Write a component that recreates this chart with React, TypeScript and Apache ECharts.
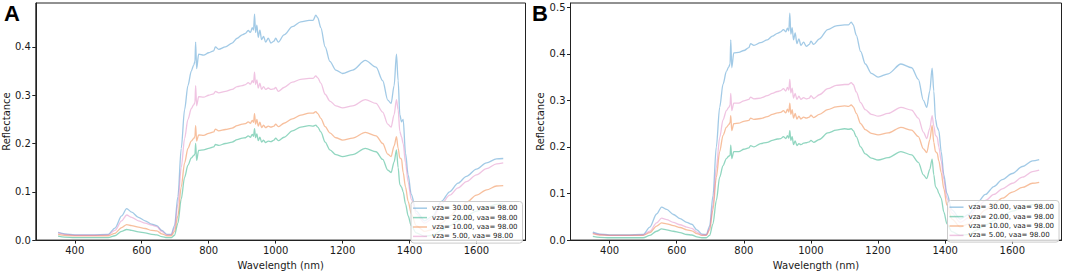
import React, { useEffect, useRef } from "react";
import * as echarts from "echarts";

// Wavelength sample points (nm)
const WAVELENGTHS = [
  350, 370, 400, 450, 500, 520, 540, 555, 570, 590, 610, 630, 645, 660, 675, 688,
  698, 708, 718, 728, 738, 748, 755, 759, 761, 764, 770, 785, 800, 815, 820, 830, 850, 870, 885, 900,
  910, 918, 925, 930, 934, 937, 940, 944, 948, 953, 958, 964, 970, 978, 986, 995, 1000, 1008, 1025, 1050,
  1075, 1100, 1112, 1120, 1126, 1135, 1148, 1162, 1180, 1200, 1230, 1268, 1300, 1320, 1335, 1345, 1354, 1361, 1366, 1371,
  1376, 1381, 1388, 1396, 1405, 1420, 1445, 1470, 1495, 1520, 1545, 1570, 1600, 1630, 1660, 1680,
];

const SERIES_NAMES = [
  "vza= 30.00, vaa= 98.00",
  "vza= 20.00, vaa= 98.00",
  "vza= 10.00, vaa= 98.00",
  "vza= 5.00, vaa= 98.00",
];

// Panel A
const A_VZA30 = [
  0.016, 0.013, 0.011, 0.011, 0.012, 0.025, 0.050, 0.065, 0.058, 0.047, 0.040, 0.033, 0.030, 0.020, 0.012, 0.012,
  0.03, 0.09, 0.19, 0.27, 0.32, 0.35, 0.362, 0.37, 0.41, 0.355, 0.385, 0.383, 0.388, 0.392, 0.40, 0.395, 0.40, 0.408, 0.418, 0.425,
  0.428, 0.434, 0.43, 0.44, 0.435, 0.468, 0.43, 0.445, 0.42, 0.435, 0.415, 0.422, 0.41, 0.418, 0.408, 0.412, 0.418, 0.41, 0.425, 0.442,
  0.452, 0.455, 0.455, 0.466, 0.46, 0.44, 0.40, 0.37, 0.352, 0.345, 0.352, 0.372, 0.358, 0.33, 0.29, 0.283, 0.32, 0.385, 0.33, 0.26,
  0.245, 0.25, 0.18, 0.135, 0.095, 0.06, 0.04, 0.05, 0.08, 0.1, 0.118, 0.132, 0.147, 0.16, 0.168, 0.169,
];
const A_VZA20 = [
  0.008, 0.006, 0.005, 0.005, 0.005, 0.009, 0.018, 0.022, 0.02, 0.017, 0.015, 0.012, 0.011, 0.007, 0.005, 0.005,
  0.01, 0.035, 0.085, 0.13, 0.155, 0.17, 0.175, 0.178, 0.2, 0.165, 0.186, 0.187, 0.19, 0.193, 0.198, 0.196, 0.2, 0.203, 0.208, 0.211,
  0.212, 0.216, 0.213, 0.219, 0.215, 0.231, 0.212, 0.22, 0.206, 0.213, 0.203, 0.207, 0.202, 0.205, 0.204, 0.207, 0.211, 0.206, 0.213, 0.226,
  0.234, 0.237, 0.236, 0.238, 0.234, 0.224, 0.203, 0.187, 0.177, 0.173, 0.177, 0.19, 0.183, 0.167, 0.145, 0.14, 0.162, 0.187, 0.15, 0.115,
  0.11, 0.1, 0.075, 0.05, 0.03, 0.015, 0.008, 0.01, 0.02, 0.03, 0.04, 0.05, 0.06, 0.068, 0.074, 0.075,
];
const A_VZA10 = [
  0.012, 0.01, 0.009, 0.009, 0.009, 0.014, 0.026, 0.032, 0.03, 0.027, 0.024, 0.02, 0.019, 0.013, 0.009, 0.009,
  0.018, 0.05, 0.11, 0.16, 0.19, 0.205, 0.21, 0.215, 0.237, 0.205, 0.218, 0.217, 0.221, 0.224, 0.23, 0.226, 0.229, 0.232, 0.237, 0.24,
  0.241, 0.245, 0.242, 0.248, 0.244, 0.262, 0.24, 0.25, 0.236, 0.244, 0.233, 0.238, 0.233, 0.236, 0.234, 0.236, 0.24, 0.235, 0.242, 0.251,
  0.259, 0.263, 0.263, 0.266, 0.262, 0.252, 0.235, 0.222, 0.212, 0.207, 0.211, 0.223, 0.216, 0.2, 0.178, 0.173, 0.195, 0.214, 0.19, 0.17,
  0.168, 0.14, 0.11, 0.08, 0.055, 0.03, 0.018, 0.022, 0.035, 0.05, 0.065, 0.078, 0.093, 0.104, 0.112, 0.113,
];
const A_VZA5 = [
  0.015, 0.012, 0.01, 0.01, 0.011, 0.02, 0.04, 0.052, 0.047, 0.04, 0.035, 0.031, 0.028, 0.018, 0.011, 0.011,
  0.025, 0.075, 0.15, 0.21, 0.25, 0.272, 0.28, 0.285, 0.32, 0.278, 0.297, 0.296, 0.30, 0.303, 0.308, 0.305, 0.308, 0.312, 0.318, 0.32,
  0.322, 0.326, 0.323, 0.33, 0.326, 0.348, 0.322, 0.332, 0.315, 0.325, 0.312, 0.318, 0.312, 0.315, 0.312, 0.313, 0.316, 0.308, 0.316, 0.327,
  0.333, 0.335, 0.335, 0.34, 0.336, 0.325, 0.302, 0.288, 0.278, 0.274, 0.278, 0.291, 0.283, 0.265, 0.24, 0.234, 0.26, 0.291, 0.27, 0.225,
  0.214, 0.2, 0.16, 0.12, 0.085, 0.055, 0.035, 0.045, 0.075, 0.093, 0.108, 0.121, 0.135, 0.148, 0.158, 0.16,
];

// Panel B
const B_VZA30 = [
  0.017, 0.013, 0.011, 0.011, 0.012, 0.028, 0.056, 0.071, 0.066, 0.055, 0.046, 0.038, 0.034, 0.022, 0.013, 0.012,
  0.03, 0.095, 0.2, 0.285, 0.335, 0.362, 0.372, 0.378, 0.43, 0.37, 0.402, 0.403, 0.407, 0.413, 0.422, 0.418, 0.424, 0.43, 0.438, 0.444,
  0.447, 0.452, 0.447, 0.455, 0.449, 0.487, 0.442, 0.456, 0.43, 0.445, 0.422, 0.432, 0.418, 0.425, 0.416, 0.42, 0.427, 0.42, 0.432, 0.452,
  0.46, 0.462, 0.462, 0.468, 0.462, 0.44, 0.405, 0.378, 0.358, 0.35, 0.357, 0.378, 0.37, 0.345, 0.3, 0.285, 0.32, 0.369, 0.32, 0.26,
  0.242, 0.235, 0.19, 0.14, 0.1, 0.065, 0.045, 0.055, 0.08, 0.098, 0.115, 0.13, 0.143, 0.158, 0.17, 0.173,
];
const B_VZA20 = [
  0.008, 0.006, 0.005, 0.005, 0.005, 0.01, 0.019, 0.024, 0.022, 0.019, 0.016, 0.012, 0.011, 0.007, 0.005, 0.005,
  0.01, 0.035, 0.085, 0.135, 0.16, 0.175, 0.18, 0.182, 0.204, 0.175, 0.19, 0.19, 0.195, 0.198, 0.203, 0.2, 0.207, 0.21, 0.214, 0.217,
  0.218, 0.222, 0.218, 0.224, 0.219, 0.235, 0.214, 0.222, 0.205, 0.213, 0.203, 0.207, 0.205, 0.208, 0.209, 0.211, 0.214, 0.21, 0.216, 0.23,
  0.236, 0.239, 0.238, 0.239, 0.235, 0.222, 0.2, 0.185, 0.176, 0.172, 0.177, 0.19, 0.183, 0.167, 0.14, 0.132, 0.152, 0.174, 0.14, 0.115,
  0.11, 0.1, 0.09, 0.06, 0.035, 0.018, 0.01, 0.012, 0.022, 0.032, 0.042, 0.052, 0.062, 0.07, 0.076, 0.078,
];
const B_VZA10 = [
  0.014, 0.011, 0.01, 0.01, 0.01, 0.016, 0.03, 0.037, 0.035, 0.031, 0.027, 0.022, 0.02, 0.014, 0.01, 0.01,
  0.022, 0.065, 0.135, 0.19, 0.225, 0.242, 0.248, 0.252, 0.267, 0.235, 0.25, 0.251, 0.255, 0.257, 0.262, 0.259, 0.261, 0.265, 0.27, 0.273,
  0.274, 0.278, 0.273, 0.281, 0.275, 0.294, 0.27, 0.28, 0.262, 0.272, 0.26, 0.266, 0.26, 0.264, 0.262, 0.264, 0.268, 0.263, 0.27, 0.28,
  0.286, 0.288, 0.287, 0.29, 0.286, 0.272, 0.25, 0.237, 0.229, 0.226, 0.23, 0.242, 0.236, 0.222, 0.196, 0.188, 0.215, 0.246, 0.21, 0.19,
  0.187, 0.17, 0.145, 0.11, 0.075, 0.045, 0.028, 0.035, 0.05, 0.065, 0.078, 0.09, 0.103, 0.113, 0.122, 0.124,
];
const B_VZA5 = [
  0.015, 0.012, 0.01, 0.01, 0.011, 0.019, 0.037, 0.047, 0.044, 0.038, 0.033, 0.028, 0.025, 0.017, 0.011, 0.011,
  0.025, 0.075, 0.155, 0.22, 0.258, 0.278, 0.285, 0.29, 0.315, 0.278, 0.294, 0.294, 0.299, 0.302, 0.307, 0.303, 0.305, 0.31, 0.315, 0.319,
  0.321, 0.325, 0.32, 0.328, 0.322, 0.345, 0.316, 0.326, 0.305, 0.315, 0.302, 0.309, 0.302, 0.306, 0.303, 0.305, 0.31, 0.304, 0.312, 0.325,
  0.332, 0.334, 0.334, 0.338, 0.334, 0.318, 0.295, 0.28, 0.27, 0.266, 0.272, 0.285, 0.279, 0.262, 0.232, 0.218, 0.24, 0.267, 0.245, 0.225,
  0.221, 0.2, 0.17, 0.13, 0.09, 0.058, 0.038, 0.048, 0.07, 0.085, 0.098, 0.11, 0.122, 0.135, 0.147, 0.15,
];

const X_TICKS = [400, 600, 800, 1000, 1200, 1400, 1600];
const Y_TICKS_A = [0, 0.1, 0.2, 0.3, 0.4];
const Y_TICKS_B = [0, 0.1, 0.2, 0.3, 0.4, 0.5];

const COLORS = [
  "rgba(70,150,205,0.5)",
  "rgba(55,180,140,0.55)",
  "rgba(240,128,60,0.5)",
  "rgba(222,125,190,0.45)",
];

const FONT = "DejaVu Sans";
const TEXT_COLOR = "#1a1a1a";
const AXIS_COLOR = "#222";

export default function App() {
  const ref = useRef<HTMLDivElement>(null);

  useEffect(() => {
    if (!ref.current) return;
    const chart = echarts.init(ref.current, undefined, { renderer: "svg" });

    const panels = [
      { left: 33.5, width: 492, yMax: 0.491, yTicks: Y_TICKS_A, data: [A_VZA30, A_VZA20, A_VZA10, A_VZA5], legendLeft: 411, legendTop: 201.5 },
      { left: 570.5, width: 491, yMax: 0.509, yTicks: Y_TICKS_B, data: [B_VZA30, B_VZA20, B_VZA10, B_VZA5], legendLeft: 947.5, legendTop: 200.5 },
    ];

    const series: any[] = [];
    panels.forEach((p, pi) => {
      p.data.forEach((arr, si) => {
        series.push({
          type: "line",
          name: SERIES_NAMES[si],
          xAxisIndex: pi,
          yAxisIndex: pi,
          data: WAVELENGTHS.map((w, i) => [w, arr[i]]),
          symbol: "none",
          showSymbol: false,
          smooth: 0.3,
          smoothMonotone: "x",
          lineStyle: { width: 1.3, color: COLORS[si] },
          itemStyle: { color: COLORS[si] },
          emphasis: { disabled: true },
          z: 2 + si,
        });
      });
    });

    const option: any = {
      animation: false,
      textStyle: { fontFamily: FONT },
      grid: panels.map((p) => ({
        left: p.left,
        top: 3,
        width: p.width,
        height: 243,
        show: true,
        borderColor: AXIS_COLOR,
        borderWidth: 1,
        backgroundColor: "transparent",
        containLabel: false,
      })),
      xAxis: panels.map((p, pi) => ({
        type: "value",
        gridIndex: pi,
        min: 283.5,
        max: 1746.5,
        splitLine: { show: false },
        axisLine: { show: true, onZero: false, lineStyle: { color: AXIS_COLOR, width: 1 } },
        axisTick: { show: true, length: 3.5, inside: false, customValues: X_TICKS, lineStyle: { color: AXIS_COLOR } },
        axisLabel: {
          customValues: X_TICKS,
          fontSize: 10,
          color: TEXT_COLOR,
          margin: 5,
          fontFamily: FONT,
          formatter: (v: number) => String(Math.round(v)),
        },
        name: "Wavelength (nm)",
        nameLocation: "middle",
        nameGap: 17,
        nameTextStyle: { fontSize: 10, color: TEXT_COLOR, fontFamily: FONT },
      })),
      yAxis: panels.map((p, pi) => ({
        type: "value",
        gridIndex: pi,
        min: 0,
        max: p.yMax,
        splitLine: { show: false },
        axisLine: { show: true, onZero: false, lineStyle: { color: AXIS_COLOR, width: 1 } },
        axisTick: { show: true, length: 3.5, inside: false, customValues: p.yTicks, lineStyle: { color: AXIS_COLOR } },
        axisLabel: {
          customValues: p.yTicks,
          fontSize: 10,
          color: TEXT_COLOR,
          margin: 5,
          fontFamily: FONT,
          formatter: (v: number) => v.toFixed(1),
        },
        name: "Reflectance",
        nameLocation: "middle",
        nameGap: 22,
        nameTextStyle: { fontSize: 10, color: TEXT_COLOR, fontFamily: FONT },
      })),
      legend: panels.map((p) => ({
        data: SERIES_NAMES,
        orient: "vertical",
        left: p.legendLeft,
        top: p.legendTop,
        icon: "rect",
        itemWidth: 14,
        itemHeight: 1.5,
        itemGap: 0,
        padding: [2, 5, 2, 2],
        backgroundColor: "rgba(255,255,255,0.8)",
        borderColor: "#cccccc",
        borderWidth: 1,
        borderRadius: 3,
        selectedMode: false,
        textStyle: { fontSize: 7, color: TEXT_COLOR, fontFamily: FONT, lineHeight: 9.4, padding: [0, 0, 0, 0] },
        z: 10,
      })),
      graphic: [
        { type: "text", left: 4, top: 2, style: { text: "A", font: 'bold 22px "Liberation Sans"', fill: "#000" } },
        { type: "text", left: 532, top: 2, style: { text: "B", font: 'bold 22px "Liberation Sans"', fill: "#000" } },
      ],
      series,
    };

    chart.setOption(option);
    return () => chart.dispose();
  }, []);

  return (
    <div
      ref={ref}
      style={{ position: "fixed", left: 0, top: 0, width: 1065, height: 275, background: "#fff" }}
    />
  );
}
